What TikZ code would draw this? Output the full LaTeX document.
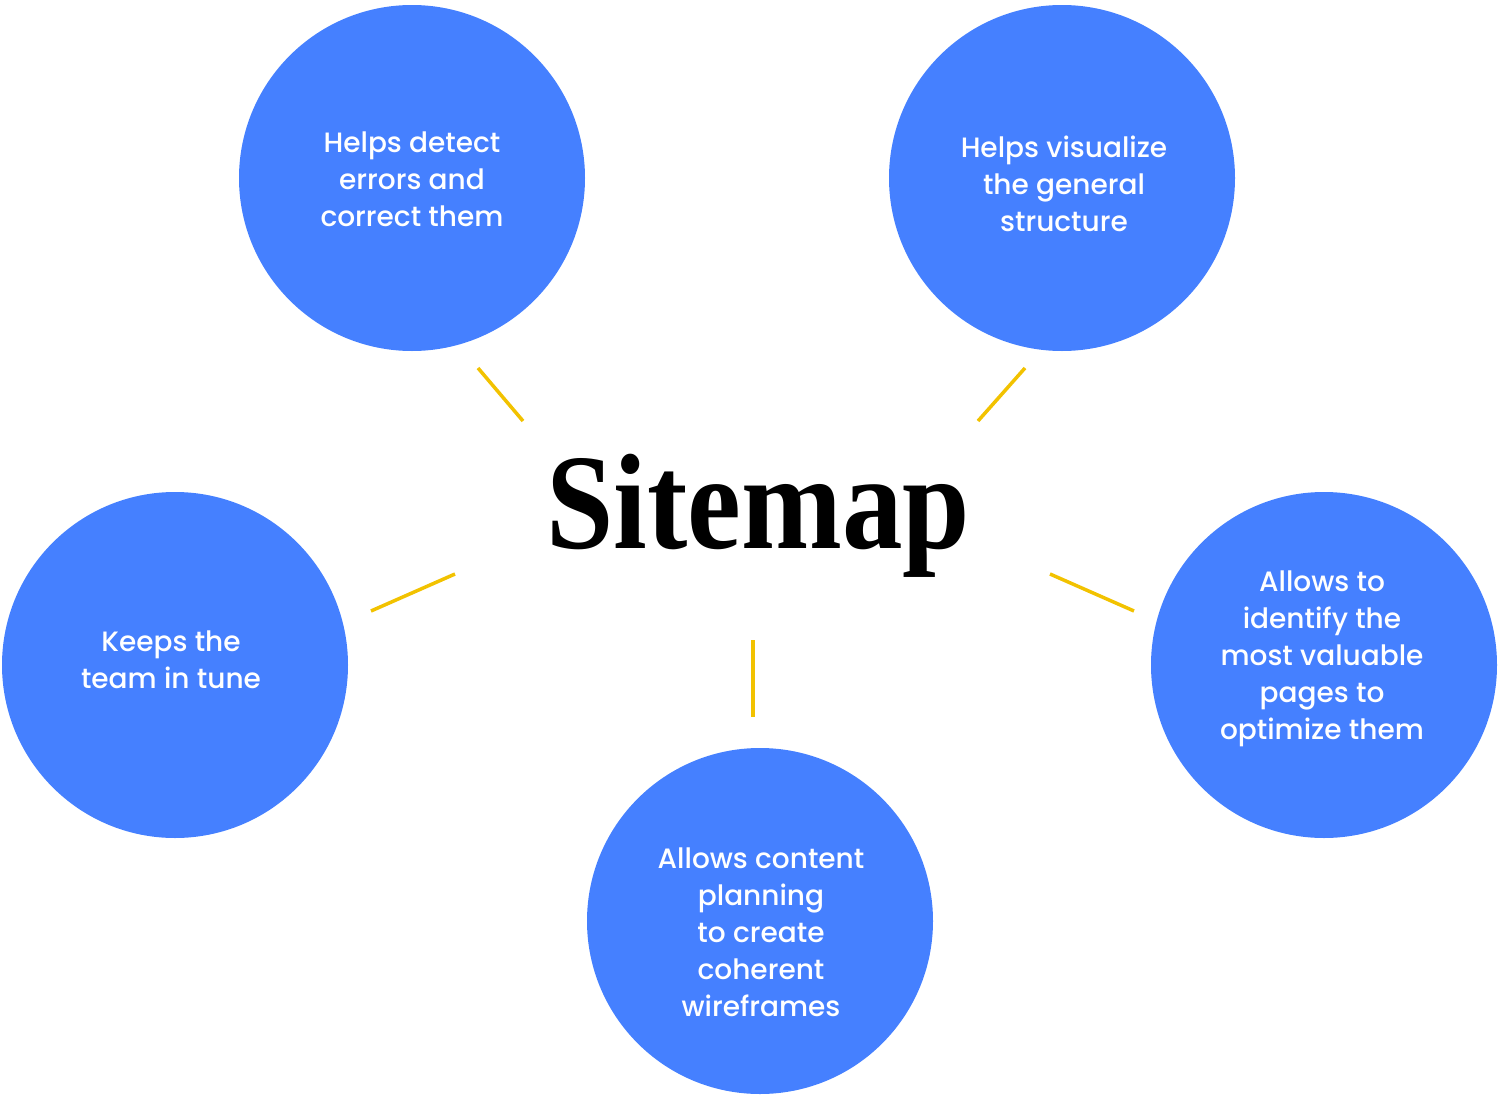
\documentclass[tikz,border=0pt]{standalone}
\usepackage{fontspec}
\usepackage{tikz}
\usetikzlibrary{positioning}
\newfontfamily\bubblefont{Poppins Medium}
\newfontfamily\titlefont{Liberation Serif}
\definecolor{bubbleblue}{HTML}{4580FF}
\definecolor{spokeyellow}{HTML}{F2C200}
\tikzset{
    bubble/.style = {circle, fill=bubbleblue, draw=none, minimum size=346pt, inner sep=0pt},
    bubbletext/.style = {text=white, align=center, font=\bubblefont\fontsize{28}{37}\selectfont},
    spoke/.style = {draw=spokeyellow, line width=3.5pt},
}

\begin{document}
\begin{tikzpicture}[x=1pt, y=-1pt]
        \useasboundingbox (0, 0) rectangle (1500, 1100);

        \node (title) at (758, 548) [anchor=base, xscale=0.89] {\titlefont\bfseries\fontsize{136}{140}\selectfont Sitemap};

        \node[bubble] (errors) at (412, 178) {};
        \node[bubble] (structure) at (1062, 178) {};
        \node[bubble] (team) at (175, 665) {};
        \node[bubble] (pages) at (1324, 665) {};
        \node[bubble] (content) at (760, 921) {};

        \node[bubbletext] (errorstext) at (412, 179) {Helps detect\\errors and\\correct them};
        \node[bubbletext] (structuretext) at (1064, 184) {Helps visualize\\the general\\structure};
        \node[bubbletext] (teamtext) at (171, 660) {Keeps the\\team in tune};
        \node[bubbletext] (pagestext) at (1322, 659) {Allows to\\identify the\\most valuable\\pages to\\optimize them};
        \node[bubbletext] (contenttext) at (761, 932) {Allows content\\planning\\to create\\coherent\\wireframes};

        \coordinate (e1) at (478, 368);
        \coordinate (e2) at (523, 421);
        \coordinate (s1) at (1025, 368);
        \coordinate (s2) at (978, 421);
        \coordinate (t1) at (455, 574);
        \coordinate (t2) at (371, 611);
        \coordinate (p1) at (1050, 574);
        \coordinate (p2) at (1134, 611);
        \coordinate (c1) at (753, 640);
        \coordinate (c2) at (753, 717);

        \draw[spoke] (e1) -- (e2);
        \draw[spoke] (s1) -- (s2);
        \draw[spoke] (t1) -- (t2);
        \draw[spoke] (p1) -- (p2);
        \draw[spoke] (c1) -- (c2);
    \end{tikzpicture}
\end{document}
